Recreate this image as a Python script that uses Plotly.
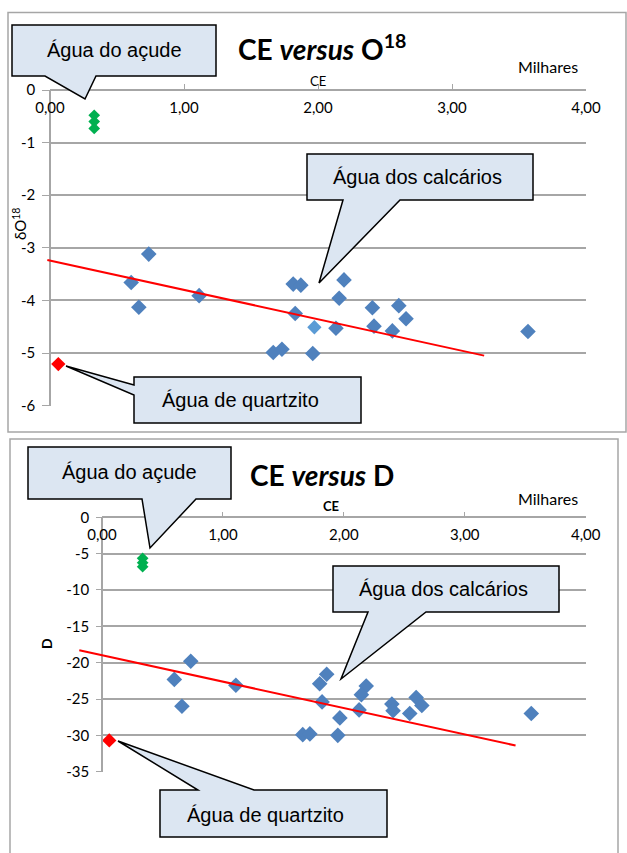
import plotly.graph_objects as go

# ---------------- data ----------------
xticks = [0, 1, 2, 3, 4]
xtick_text = ["0,00", "1,00", "2,00", "3,00", "4,00"]

# Top chart: CE versus O18
o18_ticks = [0, -1, -2, -3, -4, -5, -6]
o18_blue_x = [0.606, 0.663, 0.737, 1.113, 1.666, 1.731, 1.815, 1.872, 1.83, 1.961,
              2.134, 2.158, 2.194, 2.406, 2.418, 2.555, 2.603, 2.657, 3.567]
o18_blue_y = [-3.66, -4.13, -3.12, -3.91, -4.99, -4.93, -3.69, -3.71, -4.25, -5.01,
              -4.53, -3.96, -3.61, -4.14, -4.49, -4.58, -4.10, -4.35, -4.59]
o18_light_x = [1.973]
o18_light_y = [-4.51]
o18_green_x = [0.33, 0.33, 0.33]
o18_green_y = [-0.48, -0.60, -0.73]
o18_red_x = [0.062]
o18_red_y = [-5.21]
o18_trend_x = [-0.02, 3.24]
o18_trend_y = [-3.23, -5.05]

# Bottom chart: CE versus D
d_ticks = [0, -5, -10, -15, -20, -25, -30, -35]
d_blue_x = [0.598, 0.661, 0.734, 1.107, 1.80, 1.858, 1.82, 1.967, 2.185, 2.145,
            2.126, 2.397, 2.407, 2.545, 2.598, 2.645, 3.55, 1.66, 1.719, 1.95]
d_blue_y = [-22.3, -26.0, -19.8, -23.1, -22.9, -21.6, -25.4, -27.6, -23.2, -24.4,
            -26.5, -25.7, -26.6, -27.0, -24.8, -25.9, -27.0, -29.9, -29.8, -30.0]
d_green_x = [0.336, 0.336, 0.336]
d_green_y = [-5.64, -6.25, -6.80]
d_red_x = [0.06]
d_red_y = [-30.7]
d_trend_x = [-0.188, 3.42]
d_trend_y = [-18.3, -31.4]

# ---------------- layout helpers ----------------
W, H = 627, 853


def px(x):
    return x / W


def py(y):
    return 1 - y / H


GRID = "#A6A6A6"
BLUE = "#4F81BD"
LIGHT = "#5B9BD5"
GREEN = "#00B050"
RED = "#FF0000"
CALL_FILL = "#DCE6F2"
TICKFONT = dict(family="Lato, Open Sans, sans-serif", size=15, color="#000000")
NARROW = "Liberation Sans Narrow, Arial Narrow, Liberation Sans, sans-serif"

# pixel geometry of the two plot areas
P1 = dict(x0=50, x4=586, ytop=90, ybot=405.6, ymin=-6)
P2 = dict(x0=102, x4=585.7, ytop=517.3, ybot=771.7, ymin=-35)

fig = go.Figure()


def add_scatter(x, y, color, size, xa, ya, name):
    fig.add_trace(go.Scatter(x=x, y=y, mode="markers", name=name, xaxis=xa, yaxis=ya,
                             marker=dict(symbol="diamond", color=color, size=size,
                                         line=dict(width=0)),
                             showlegend=False, hoverinfo="x+y"))


def add_trend(x, y, xa, ya):
    fig.add_trace(go.Scatter(x=x, y=y, mode="lines", xaxis=xa, yaxis=ya,
                             line=dict(color=RED, width=2), showlegend=False,
                             hoverinfo="skip"))


# top chart traces
add_trend(o18_trend_x, o18_trend_y, "x3", "y3")
add_scatter(o18_blue_x, o18_blue_y, BLUE, 12, "x", "y", "calcários")
add_scatter(o18_light_x, o18_light_y, LIGHT, 11, "x", "y", "calcários")
add_scatter(o18_green_x, o18_green_y, GREEN, 9, "x", "y", "açude")
add_scatter(o18_red_x, o18_red_y, RED, 11, "x", "y", "quartzito")

# bottom chart traces
add_trend(d_trend_x, d_trend_y, "x4", "y4")
add_scatter(d_blue_x, d_blue_y, BLUE, 12, "x2", "y2", "calcários")
add_scatter(d_green_x, d_green_y, GREEN, 9, "x2", "y2", "açude")
add_scatter(d_red_x, d_red_y, RED, 11, "x2", "y2", "quartzito")


def xaxis_cfg(P):
    return dict(domain=[px(P["x0"]), px(P["x4"])], range=[0, 4], anchor="free",
                position=py(P["ytop"]), side="bottom", tickmode="array",
                tickvals=xticks, ticktext=xtick_text, ticks="inside", ticklen=5,
                tickcolor=GRID, showline=True, linecolor=GRID, linewidth=1.5,
                showgrid=False, zeroline=False, tickfont=TICKFONT,
                ticklabelstandoff=4, fixedrange=True, automargin=False)


def yaxis_cfg(P, ticks, ticklen):
    return dict(domain=[py(P["ybot"]), py(P["ytop"])], range=[P["ymin"], 0],
                anchor="free", position=px(P["x0"]), tickmode="array", tickvals=ticks,
                ticktext=[str(v) for v in ticks],
                ticks="outside", ticklen=ticklen, tickcolor=GRID, showline=True,
                linecolor=GRID, linewidth=1.5, showgrid=True, gridcolor=GRID,
                gridwidth=1.5, zeroline=False, tickfont=TICKFONT,
                ticklabelstandoff=4, fixedrange=True, automargin=False)


def overlay_x(P, xmin):
    unit = (P["x4"] - P["x0"]) / 4
    left = P["x0"] + xmin * unit
    return dict(domain=[px(left), px(P["x4"])], range=[xmin, 4], visible=False,
                anchor="free", position=0, fixedrange=True, automargin=False)


def overlay_y(P):
    return dict(domain=[py(P["ybot"]), py(P["ytop"])], range=[P["ymin"], 0],
                visible=False, anchor="free", position=0, fixedrange=True,
                automargin=False)


shapes = []
# chart frames
shapes.append(dict(type="rect", xref="paper", yref="paper", x0=px(8), x1=px(626),
                   y0=py(432), y1=py(12.5), line=dict(color=GRID, width=1.5)))
shapes.append(dict(type="rect", xref="paper", yref="paper", x0=px(10), x1=px(618),
                   y0=py(860), y1=py(439), line=dict(color=GRID, width=1.5)))


def path_from(points):
    s = "M " + " L ".join(f"{px(a):.5f},{py(b):.5f}" for a, b in points) + " Z"
    return s


def callout(points):
    shapes.append(dict(type="path", xref="paper", yref="paper", path=path_from(points),
                       fillcolor=CALL_FILL, line=dict(color="#000000", width=1.5),
                       layer="above"))


annotations = []


def text(x, y, s, size, family, **kw):
    annotations.append(dict(x=px(x), y=py(y), xref="paper", yref="paper", text=s,
                            showarrow=False, xanchor=kw.pop("xanchor", "center"),
                            yanchor="middle", font=dict(size=size, family=family,
                                                        color="#000000"), **kw))


# ---- top chart callouts ----
callout([(12, 25), (216, 25), (216, 76), (96, 76), (85, 99), (45, 76), (12, 76)])
text(114, 50, "Água do açude", 20, NARROW)
callout([(307, 154), (533, 154), (533, 200), (400, 200), (319, 283), (343, 200), (307, 200)])
text(417, 177, "Água dos calcários", 20, NARROW)
callout([(134, 377), (361, 377), (361, 423), (134, 423), (134, 395), (66, 366), (134, 385)])
text(240, 400, "Água de quartzito", 20, NARROW)

# ---- bottom chart callouts ----
callout([(28, 447), (231, 447), (231, 499), (196, 499), (150, 548), (142, 499), (28, 499)])
text(129, 472, "Água do açude", 20, NARROW)
callout([(333, 566), (559, 566), (559, 612), (426, 612), (341, 679), (368, 612), (333, 612)])
text(443, 589, "Água dos calcários", 20, NARROW)
callout([(160, 790), (198, 790), (118, 741), (254, 790), (387, 790), (387, 837), (160, 837)])
text(265, 815, "Água de quartzito", 20, NARROW)

# titles and axis texts
BOLD = "Lato, Open Sans, sans-serif"
text(322, 47, "<b>CE <i>versus</i> O<sup>18</sup></b>", 28, BOLD)
text(322, 475, "<b>CE <i>versus</i> D</b>", 28, BOLD)
text(548, 66, "Milhares", 16, BOLD)
text(548, 498, "Milhares", 16, BOLD)
text(318, 81, "CE", 13, BOLD)
text(331, 506, "<b>CE</b>", 13, BOLD)
text(19, 224, "δO<sup>18</sup>", 15, BOLD, textangle=-90)
text(46, 644, "<b>D</b>", 14, BOLD, textangle=-90)

fig.update_layout(
    width=W, height=H, margin=dict(l=0, r=0, t=0, b=0, pad=0),
    paper_bgcolor="white", plot_bgcolor="rgba(0,0,0,0)",
    xaxis=xaxis_cfg(P1), yaxis=yaxis_cfg(P1, o18_ticks, 7),
    xaxis2=xaxis_cfg(P2), yaxis2=yaxis_cfg(P2, d_ticks, 5),
    xaxis3=overlay_x(P1, -0.05), yaxis3=overlay_y(P1),
    xaxis4=overlay_x(P2, -0.2), yaxis4=overlay_y(P2),
    shapes=shapes, annotations=annotations, showlegend=False,
)

fig.write_html("out.html")
